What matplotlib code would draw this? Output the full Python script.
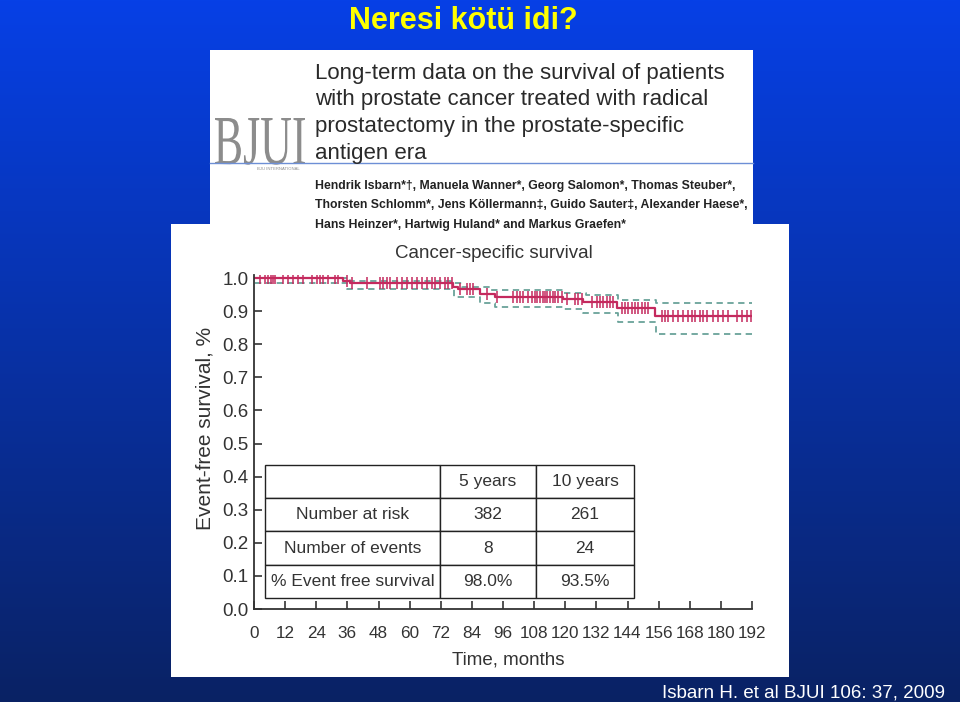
import numpy as np
import matplotlib
matplotlib.use("Agg")
import matplotlib.pyplot as plt
from matplotlib.patches import Rectangle, PathPatch
from matplotlib.textpath import TextPath
from matplotlib.font_manager import FontProperties
from matplotlib.transforms import Affine2D

# Kaplan-Meier, cancer-specific survival
km_t = [0, 34.4, 37.0, 76.8, 78.5, 87.0, 93.0, 119.0, 127.0, 140.0, 154.5, 192]
km_s = [1.000, 0.990, 0.984, 0.974, 0.967, 0.952, 0.944, 0.936, 0.928, 0.908, 0.886, 0.886]

ci_up_t = [0, 37, 76, 80, 91, 119, 128, 140.5, 155, 192]
ci_up_s = [1.000, 0.992, 0.984, 0.974, 0.964, 0.954, 0.949, 0.934, 0.923, 0.923]
ci_lo_t = [0.5, 36, 77, 87, 93, 119, 127, 140.5, 155, 192]
ci_lo_s = [0.986, 0.966, 0.944, 0.925, 0.913, 0.905, 0.893, 0.866, 0.830, 0.830]

censor_t = [2.3, 4.2, 5.5, 6.4, 7.2, 8.1, 11.3, 13.2, 15.1, 17.1, 19.0, 22.2,
            24.1, 25.4, 26.7, 28.6, 31.2, 32.5, 35.7, 37.7, 43.4, 48.6, 49.9,
            51.2, 52.4, 55.0, 56.9, 58.9, 60.8, 62.7, 64.6, 66.6, 68.5, 69.8,
            71.7, 73.6, 74.9, 76.2, 79.4, 82.0, 83.3, 84.5, 89.7, 93.6, 100.0,
            101.3, 102.5, 103.8, 105.7, 107.0, 108.3, 109.2, 110.3, 111.3,
            112.2, 113.1, 114.1, 115.1, 116.0, 117.3, 118.6, 120.5, 123.7,
            125.0, 126.3, 130.2, 132.1, 133.4, 134.7, 136.0, 137.2, 138.5,
            141.7, 143.0, 144.3, 145.6, 146.9, 148.2, 149.5, 150.7, 152.0,
            157.2, 158.4, 159.7, 161.6, 163.6, 165.5, 167.4, 168.7, 170.0,
            171.9, 173.2, 174.5, 177.1, 179.0, 180.9, 182.9, 186.1, 188.0,
            189.9, 191.6]

x_ticks = list(range(0, 193, 12))
y_ticks = [0.0, 0.1, 0.2, 0.3, 0.4, 0.5, 0.6, 0.7, 0.8, 0.9, 1.0]

table_head = ["", "5 years", "10 years"]
table_rows = [["Number at risk", "382", "261"],
              ["Number of events", "8", "24"],
              ["% Event free survival", "98.0%", "93.5%"]]

paper_title = ["Long-term data on the survival of patients",
               "with prostate cancer treated with radical",
               "prostatectomy in the prostate-specific",
               "antigen era"]
paper_authors = ["Hendrik Isbarn*\u2020, Manuela Wanner*, Georg Salomon*, Thomas Steuber*,",
                 "Thorsten Schlomm*, Jens K\u00f6llermann\u2021, Guido Sauter\u2021, Alexander Haese*,",
                 "Hans Heinzer*, Hartwig Huland* and Markus Graefen*"]

KM_COLOR = "#c42a5e"
CI_COLOR = "#6aa39a"
INK = "#333333"
FONT = "Liberation Sans"

W, H = 960, 702
fig = plt.figure(figsize=(W / 100, H / 100), dpi=100)

# slide background in pixel coords
bg = fig.add_axes([0, 0, 1, 1])
bg.set_xlim(0, W)
bg.set_ylim(H, 0)
bg.axis("off")
grad = np.linspace(0, 1, 256)[:, None]
top, bot = np.array([6, 64, 230]) / 255, np.array([10, 34, 100]) / 255
bg.imshow(top + (bot - top) * grad[..., None], extent=[0, W, H, 0], aspect="auto")

bg.text(463, 29, "Neresi kötü idi?", color="#ffff00", fontsize=22,
        fontweight="bold", family=FONT, ha="center", va="baseline")
bg.text(945, 697, "Isbarn H. et al BJUI 106: 37, 2009", color="white",
        fontsize=13.5, family=FONT, ha="right", va="baseline")

# paper header clip
bg.add_patch(Rectangle((210, 50), 543, 175, facecolor="white", edgecolor="none"))
bg.add_patch(Rectangle((171, 224), 618, 453, facecolor="white", edgecolor="none"))
bg.plot([210, 753], [162.5, 162.5], color="#6d8fd6", lw=1.0)

tp = TextPath((0, 0), "BJUI", size=100, prop=FontProperties(family="Liberation Serif"))
ext = tp.get_extents()
sx, sy = 90 / ext.width, 46 / ext.y1
tr = Affine2D().translate(-ext.x0, 0).scale(sx, -sy).translate(215, 164)
bg.add_patch(PathPatch(tr.transform_path(tp), facecolor="#8c8c8c", edgecolor="none"))
bg.text(257, 169, "BJU INTERNATIONAL", fontsize=3, color="#8c8c8c",
        family=FONT, va="center")

for i, line in enumerate(paper_title):
    bg.text(315, 79 + i * 26.5, line, fontsize=16, color="#2a2a2a",
            family=FONT, va="baseline")
for i, line in enumerate(paper_authors):
    bg.text(315, 189 + i * 19.3, line, fontsize=8.85, color="#222222",
            family=FONT, fontweight="bold", va="baseline")

# survival plot
ax = fig.add_axes([254 / W, 1 - 609 / H, 498 / W, 334.3 / H])
ax.set_facecolor("none")
ax.set_xlim(0, 192)
ax.set_ylim(0, 1.01)

ax.step(ci_up_t, ci_up_s, where="post", color=CI_COLOR, lw=1.3, ls=(0, (3.5, 2.5)))
ax.step(ci_lo_t, ci_lo_s, where="post", color=CI_COLOR, lw=1.3, ls=(0, (3.5, 2.5)))
ax.step(km_t, km_s, where="post", color=KM_COLOR, lw=1.6)
idx = np.searchsorted(km_t, censor_t, side="right") - 1
ax.plot(censor_t, np.array(km_s)[idx], ls="none", marker="|", ms=9, mew=1.1,
        color=KM_COLOR)

for s in ("top", "right"):
    ax.spines[s].set_visible(False)
for s in ("left", "bottom"):
    ax.spines[s].set_color(INK)
    ax.spines[s].set_linewidth(1.3)
ax.set_xticks(x_ticks)
ax.set_yticks(y_ticks)
ax.set_yticklabels([f"{v:.1f}" for v in y_ticks])
ax.tick_params(direction="in", length=6, width=1.2, color=INK, labelcolor=INK,
               labelfontfamily=FONT)
ax.tick_params(axis="x", labelsize=12.3, pad=12)
ax.tick_params(axis="y", labelsize=13.5, pad=4)

ax.set_xlabel("Time, months", fontsize=13.5, family=FONT, color=INK)
ax.set_ylabel("Event-free survival, %", fontsize=15, family=FONT, color=INK)
ax.xaxis.set_label_coords(0.51, -0.126)
ax.yaxis.set_label_coords(-0.080, 0.541)
fig.text(494 / W, 1 - 253 / H, "Cancer-specific survival", fontsize=13.5,
         family=FONT, color=INK, ha="center", va="center")

tab = ax.table(cellText=table_rows, colLabels=table_head, cellLoc="center",
               colWidths=[0.351, 0.193, 0.197],
               bbox=[0.0221, 0.0329, 0.741, 0.398])
tab.auto_set_font_size(False)
tab.set_fontsize(12.5)
for cell in tab.get_celld().values():
    cell.set_edgecolor("#222222")
    cell.set_linewidth(1.0)
    cell.set_facecolor("white")
    cell.get_text().set_family(FONT)
    cell.get_text().set_color(INK)

fig.savefig("out.png", dpi=100)
